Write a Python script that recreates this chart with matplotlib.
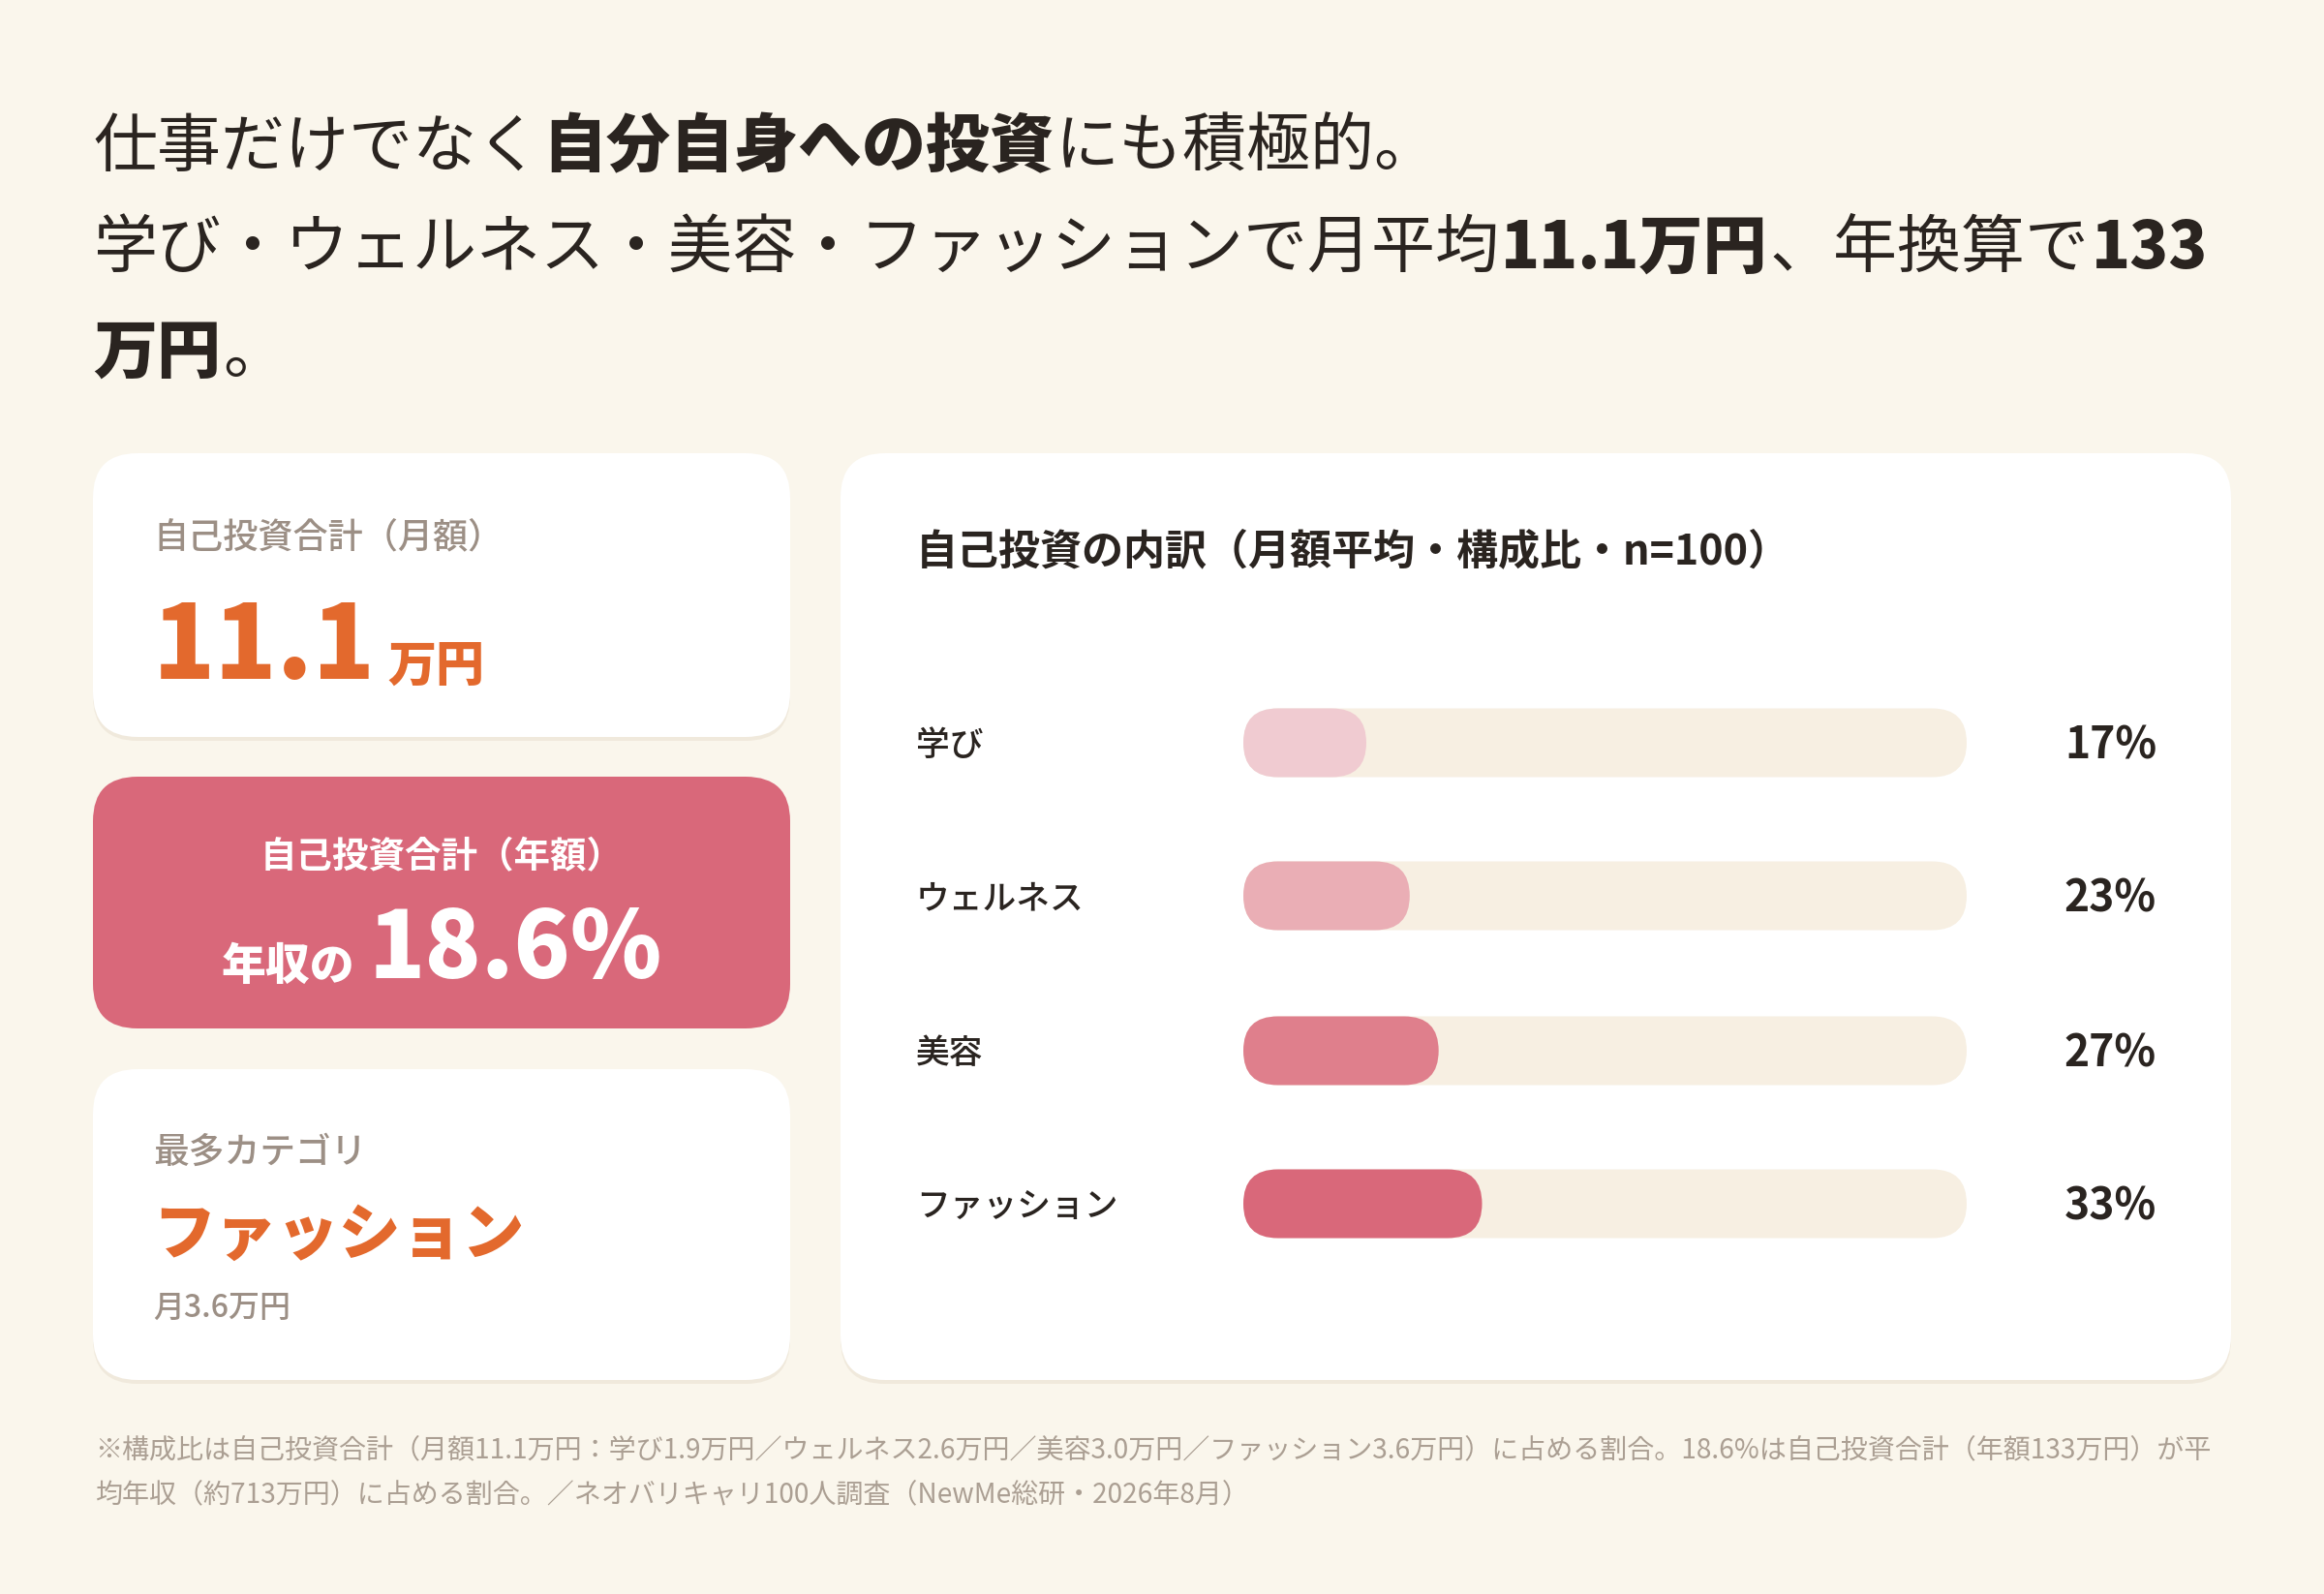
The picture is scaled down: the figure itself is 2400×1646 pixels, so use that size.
import matplotlib
matplotlib.use("Agg")
import matplotlib.pyplot as plt
from matplotlib.patches import FancyBboxPatch

plt.rcParams['font.family'] = ['Noto Sans CJK JP', 'DejaVu Sans']

# data
categories = ['学び', 'ウェルネス', '美容', 'ファッション']
shares = [17, 23, 27, 33]            # % of monthly total
amounts = [1.9, 2.6, 3.0, 3.6]       # 万円 / month
monthly_total = 11.1                 # 万円
annual_total = 133                   # 万円
annual_income = 713                  # 万円
income_ratio = 18.6                  # %
n_resp = 100

# colours
bg = '#faf6ec'
dark = '#2a2420'
grey = '#9c8f85'
orange = '#e3692d'
pink = '#d9687a'
track = '#f7efe2'
bar_colors = ['#f0cbd1', '#eaaeb5', '#df7f8c', '#d9687a']

fig = plt.figure(figsize=(24, 16.46), dpi=100, facecolor=bg)
ax = fig.add_axes([0, 0, 1, 1])
ax.set_xlim(0, 2400)
ax.set_ylim(1646, 0)
ax.axis('off')
renderer = fig.canvas.get_renderer()


def runs(x, y, parts, size, color, gap=2):
    # parts: (text, bold) pieces placed one after another on a baseline
    for s, b in parts:
        t = ax.text(x, y, s, fontsize=size, color=color, va='baseline', ha='left',
                    fontweight='heavy' if b else 'normal', zorder=3)
        x += t.get_window_extent(renderer).width + gap


def card(x, y, w, h, color, shadow=True):
    if shadow:
        ax.add_patch(FancyBboxPatch((x, y + 4), w, h, boxstyle="round,pad=0,rounding_size=46",
                                    fc='#f0e9dc', ec='none', zorder=1))
    ax.add_patch(FancyBboxPatch((x, y), w, h, boxstyle="round,pad=0,rounding_size=46",
                                fc=color, ec='none', zorder=2))


# headline
runs(96, 172, [('仕事だけでなく', False), ('自分自身への投資', True), ('にも積極的。', False)], 47.5, dark)
runs(96, 277, [('学び・ウェルネス・美容・ファッションで月平均', False), (f'{monthly_total}万円', True),
               ('、年換算で', False), (f'{annual_total}', True)], 47.5, dark)
runs(96, 385, [('万円', True), ('。', False)], 47.5, dark)

# left cards
card(96, 468, 720, 293, 'white')
ax.text(158, 566, '自己投資合計（月額）', fontsize=26, color=grey, fontweight='medium', va='baseline', zorder=3)
t = ax.text(158, 701, f'{monthly_total}', fontsize=76, color=orange, fontweight='heavy', va='baseline', zorder=3)
w = t.get_window_extent(renderer).width
ax.text(158 + w + 12, 703, '万円', fontsize=36, color=orange, fontweight='heavy', va='baseline', zorder=3)

card(96, 802, 720, 260, pink, shadow=False)
ax.text(456, 896, '自己投資合計（年額）', fontsize=27, color='white', fontweight='bold',
        va='baseline', ha='center', zorder=3)
t1 = ax.text(0, 1012, '年収の', fontsize=33, color='white', fontweight='heavy', va='baseline', zorder=3)
t2 = ax.text(0, 1010, f'{income_ratio}%', fontsize=69, color='white', fontweight='heavy', va='baseline', zorder=3)
w1 = t1.get_window_extent(renderer).width
w2 = t2.get_window_extent(renderer).width
x0 = 456 - (w1 + 14 + w2) / 2
t1.set_x(x0)
t2.set_x(x0 + w1 + 14)

top = shares.index(max(shares))
card(96, 1104, 720, 321, 'white')
ax.text(158, 1201, '最多カテゴリ', fontsize=26.5, color=grey, fontweight='medium', va='baseline', zorder=3)
ax.text(158, 1295, categories[top], fontsize=46, color=orange, fontweight='heavy', va='baseline', zorder=3)
ax.text(158, 1360, f'月{amounts[top]}万円', fontsize=23, color=grey, fontweight='medium', va='baseline', zorder=3)

# right card: breakdown bars
card(868, 468, 1436, 957, 'white')
ax.text(946, 582, f'自己投資の内訳（月額平均・構成比・n={n_resp}）', fontsize=31, color=dark,
        fontweight='bold', va='baseline', zorder=3)

row_y = [767, 925, 1085, 1243]
tx0, tw, bh = 1284, 747, 71
for cat, s, c, yc in zip(categories, shares, bar_colors, row_y):
    ax.text(946, yc + 13, cat, fontsize=25, color=dark, fontweight='medium', va='baseline', zorder=3)
    ax.add_patch(FancyBboxPatch((tx0, yc - bh / 2), tw, bh, boxstyle=f"round,pad=0,rounding_size={bh/2}",
                                fc=track, ec='none', zorder=3))
    ax.add_patch(FancyBboxPatch((tx0, yc - bh / 2), tw * s / 100, bh,
                                boxstyle=f"round,pad=0,rounding_size={bh/2}", fc=c, ec='none', zorder=4))
    ax.text(2227, yc + 16, f'{s}%', fontsize=32, color=dark, fontweight='bold', va='baseline', ha='right', zorder=3)

# footnote
note1 = (f'※構成比は自己投資合計（月額{monthly_total}万円：' +
         '／'.join(f'{c}{a}万円' for c, a in zip(categories, amounts)) +
         f'）に占める割合。{income_ratio}%は自己投資合計（年額{annual_total}万円）が平')
note2 = f'均年収（約{annual_income}万円）に占める割合。／ネオバリキャリ{n_resp}人調査（NewMe総研・2026年8月）'
ax.text(98, 1505, note1, fontsize=20.2, color='#ab9f93', va='baseline')
ax.text(98, 1551, note2, fontsize=20.2, color='#ab9f93', va='baseline')

fig.savefig('out.png', dpi=100, facecolor=bg)
